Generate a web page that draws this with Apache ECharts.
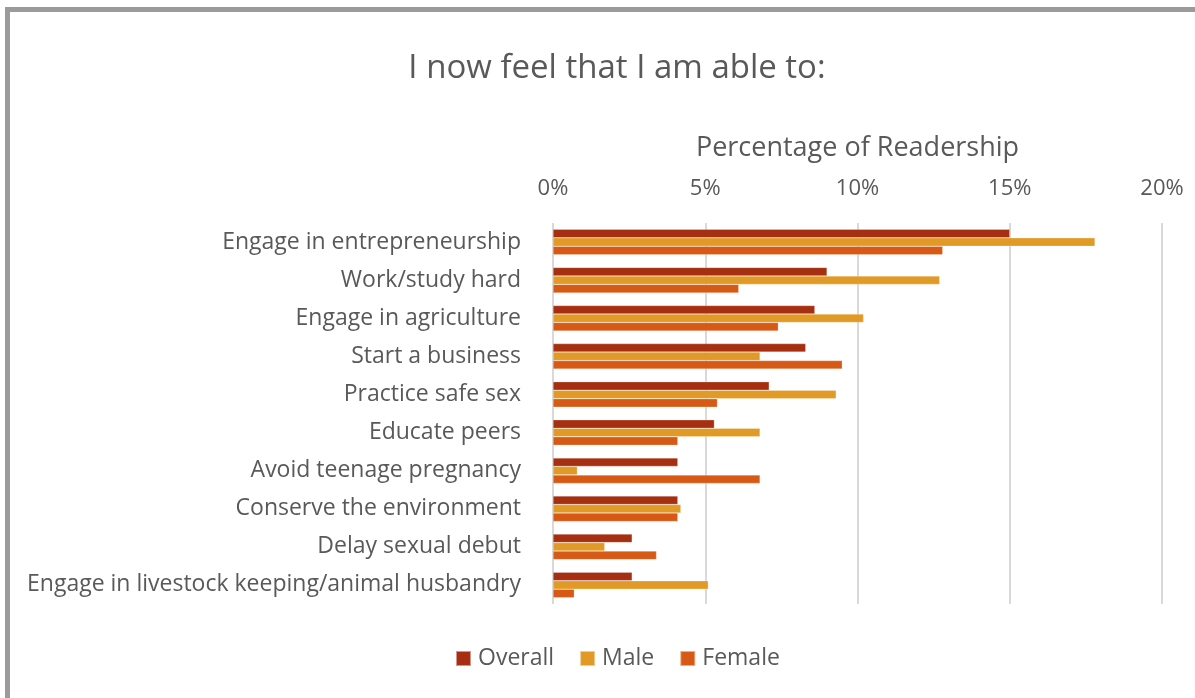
<!DOCTYPE html>
<html>
<head>
<meta charset="utf-8">
<title>I now feel that I am able to</title>
<script src="https://cdn.jsdelivr.net/npm/echarts@6/dist/echarts.min.js"></script>
<style>
  html, body { margin: 0; padding: 0; background: #fff; }
  #chart { width: 1195px; height: 698px; }
</style>
</head>
<body>
<div id="chart"></div>
<script>
// categories, top to bottom
const categories = [
    'Engage in entrepreneurship',
    'Work/study hard',
    'Engage in agriculture',
    'Start a business',
    'Practice safe sex',
    'Educate peers',
    'Avoid teenage pregnancy',
    'Conserve the environment',
    'Delay sexual debut',
    'Engage in livestock keeping/animal husbandry'
]

// percentages
const overall = [15.0, 9.0, 8.6, 8.3, 7.1, 5.3, 4.1, 4.1, 2.6, 2.6]
const male    = [17.8, 12.7, 10.2, 6.8, 9.3, 6.8, 0.8, 4.2, 1.7, 5.1]
const female  = [12.8, 6.1, 7.4, 9.5, 5.4, 4.1, 6.8, 4.1, 3.4, 0.7]

const xTicks = [0, 5, 10, 15, 20]

const font = '"Open Sans"'
const textColor = '#595959'

let myChart = echarts.init(document.getElementById('chart'))

function barSeries(name, data, color) {
    return {
        name: name,
        type: 'bar',
        data: data,
        barGap: '0%',
        barCategoryGap: '33%',
        itemStyle: { color: color, borderColor: 'rgba(255,255,255,0.5)', borderWidth: 0.5 }
    }
}

myChart.setOption({
    animation: false,
    backgroundColor: '#fff',
    textStyle: { fontFamily: font },
    title: {
        text: 'I now feel that I am able to:',
        left: 612,
        textAlign: 'center',
        top: 47,
        textStyle: { fontFamily: font, fontSize: 33, fontWeight: 'normal', color: textColor }
    },
    // grey frame round the chart (left and top edges visible)
    graphic: [{
        type: 'rect',
        shape: { x: 7.5, y: 9.5, width: 1300, height: 800 },
        style: { fill: 'none', stroke: '#9b9b9b', lineWidth: 5 },
        silent: true
    }],
    legend: {
        bottom: 23,
        left: 450,
        itemWidth: 15,
        itemHeight: 15,
        itemGap: 25,
        icon: 'rect',
        textStyle: { fontFamily: font, fontSize: 23, color: textColor, padding: [0, 0, 0, 2] },
        data: ['Overall', 'Male', 'Female']
    },
    grid: {
        left: 553,
        right: 33,
        top: 223,
        bottom: 94
    },
    xAxis: {
        type: 'value',
        position: 'top',
        min: xTicks[0],
        max: xTicks[xTicks.length - 1],
        interval: 5,
        name: 'Percentage of Readership',
        nameLocation: 'middle',
        nameGap: 61,
        nameTextStyle: { fontFamily: font, fontSize: 27, color: textColor },
        axisLine: { show: false },
        axisTick: { show: false },
        axisLabel: {
            formatter: '{value}%',
            margin: 23,
            fontFamily: font,
            fontSize: 22,
            color: textColor
        },
        splitLine: { lineStyle: { color: '#d9d9d9', width: 2 } }
    },
    yAxis: {
        type: 'category',
        inverse: true,
        data: categories,
        axisLine: { show: false },
        axisTick: { show: false },
        axisLabel: {
            margin: 32,
            fontFamily: font,
            fontSize: 23,
            color: textColor
        }
    },
    series: [
        barSeries('Overall', overall, '#a52f10'),
        barSeries('Male', male, '#e29a26'),
        barSeries('Female', female, '#d65916')
    ]
})
</script>
</body>
</html>
